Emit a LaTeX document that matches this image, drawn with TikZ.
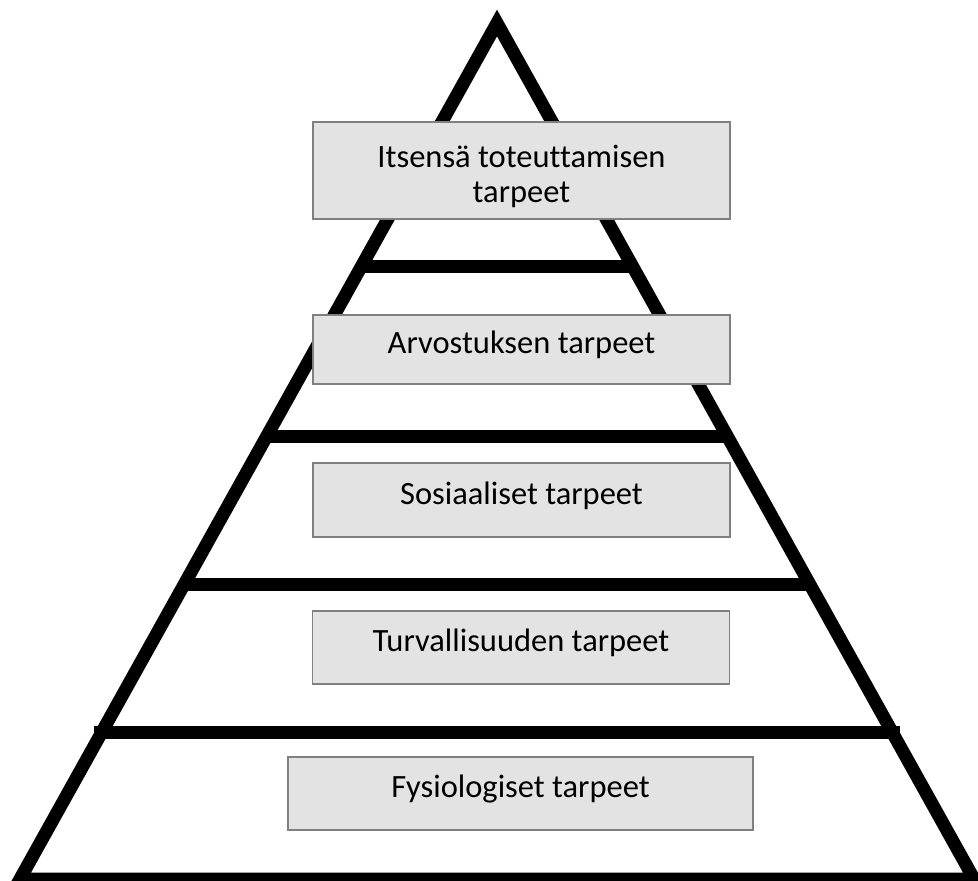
\documentclass[tikz,border=0pt]{standalone}
\usepackage{fontspec}
\setmainfont{Carlito}[Ligatures=NoCommon]
\usetikzlibrary{calc}
\definecolor{boxfill}{RGB}{227,227,227}
\definecolor{boxgray}{RGB}{128,128,128}
\newcommand{\needfont}{\fontsize{32.5}{35}\selectfont}
\tikzset{
  needbox/.style={draw=boxgray,fill=boxfill,line width=1.5pt,inner sep=0pt,
    minimum width=417pt,align=center,font=\needfont},
  oneline/.style={text height=22pt,text depth=14pt}
}

\begin{document}
\begin{tikzpicture}[x=1pt,y=-1pt]
\useasboundingbox (0,0) rectangle (978,881);
\coordinate (top) at (497,23);
\coordinate (bl) at (20,879);
\coordinate (br) at (974,879);
\draw[line width=13pt,line join=miter] (top) -- (bl) -- (br) -- cycle;
\foreach \t in {0.285,0.4825,0.6565}
  \draw[line width=13pt] ($(top)!\t!(bl)$) -- ($(top)!\t!(br)$);
\draw[line width=13pt] ($(top)!0.8294!(bl)+(-7,0)$) -- ($(top)!0.8294!(br)+(7,0)$);
\node[needbox,minimum height=97pt] (self) at (521.5,170.5)
  {\rule{0pt}{34pt}Itsensä toteuttamisen\\tarpeet};
\node[needbox,oneline,minimum height=69pt] (esteem) at (521.5,349.5) {Arvostuksen tarpeet};
\node[needbox,oneline,minimum height=74pt] (social) at (521.5,500) {Sosiaaliset tarpeet};
\node[needbox,oneline,minimum height=73pt] (safety) at (521,647.5) {Turvallisuuden tarpeet};
\node[needbox,oneline,minimum height=73pt,minimum width=465pt] (body) at (520.5,793.5) {Fysiologiset tarpeet};
\end{tikzpicture}
\end{document}
